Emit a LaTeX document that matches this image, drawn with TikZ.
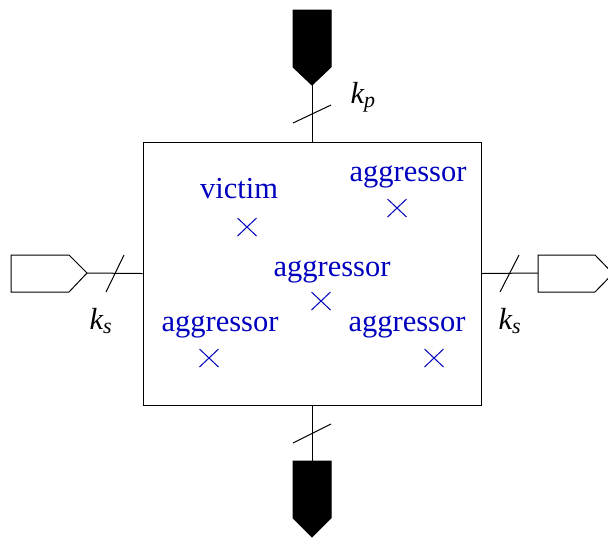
\documentclass[tikz,border=0pt]{standalone}
\usepackage{fontspec}
\setmainfont{Liberation Serif}
\definecolor{vblue}{RGB}{0,0,190}
\newcommand{\busk}[1]{{\itshape k\raisebox{-0.35ex}{\fontsize{11}{12}\selectfont #1}}}
\begin{document}
\begin{tikzpicture}[x=0.5pt,y=-0.5pt,line width=0.5pt,
  lbl/.style={text=vblue,font=\fontsize{15.25}{18}\selectfont,inner sep=0,anchor=base},
  klbl/.style={font=\fontsize{15.25}{18}\selectfont,inner sep=0,anchor=base west},
  xmark/.style={vblue,line width=0.5pt},
  blackport/.style={fill=black,draw=black},
  whiteport/.style={fill=white,draw=black}]
\clip (0,0) rectangle (608,538);
% main box
\node[draw,inner sep=0,minimum width=169pt,minimum height=131.5pt] (box) at (312,273.5) {};
% ports
\coordinate (tp) at (312,85);
\coordinate (bp) at (312,461);
\coordinate (lp) at (87,273);
\coordinate (rp) at (538,273);
\draw (tp) -- (box.north);
\draw (box.south) -- (bp);
\draw (lp) -- (box.west);
\draw (box.east) -- (rp);
\fill[blackport] (293,10) -- (331,10) -- (331,67) -- (tp) -- (293,67) -- cycle;
\fill[blackport] (293,461) -- (331,461) -- (331,518) -- (312,537) -- (293,518) -- cycle;
\draw[whiteport] (11,255) -- (69,255) -- (lp) -- (69,292) -- (11,292) -- cycle;
\draw[whiteport] (538,255) -- (595,255) -- (613,273.5) -- (595,292) -- (538,292) -- cycle;
% bus slashes
\draw (293,123) -- (331,105);
\draw (293,443) -- (331,424);
\draw (106,292) -- (124,255);
\draw (500,292) -- (519,255);
% bus labels
\node[klbl] (kp) at (350,103) {\busk{p}};
\node[klbl] (ksl) at (89,329) {\busk{s}};
\node[klbl] (ksr) at (498,329) {\busk{s}};
% victim / aggressors
\node[lbl] (v) at (239,198) {victim};
\node[lbl] (a1) at (408,181) {aggressor};
\node[lbl] (a2) at (332,276) {aggressor};
\node[lbl] (a3) at (220,331) {aggressor};
\node[lbl] (a4) at (407,331) {aggressor};
\foreach \cx/\cy in {247/227, 397/208, 321/301, 209/358, 434/358}{
  \draw[xmark] (\cx-9.5,\cy-9) -- (\cx+9.5,\cy+9);
  \draw[xmark] (\cx-9.5,\cy+9) -- (\cx+9.5,\cy-9);
}
\end{tikzpicture}
\end{document}
